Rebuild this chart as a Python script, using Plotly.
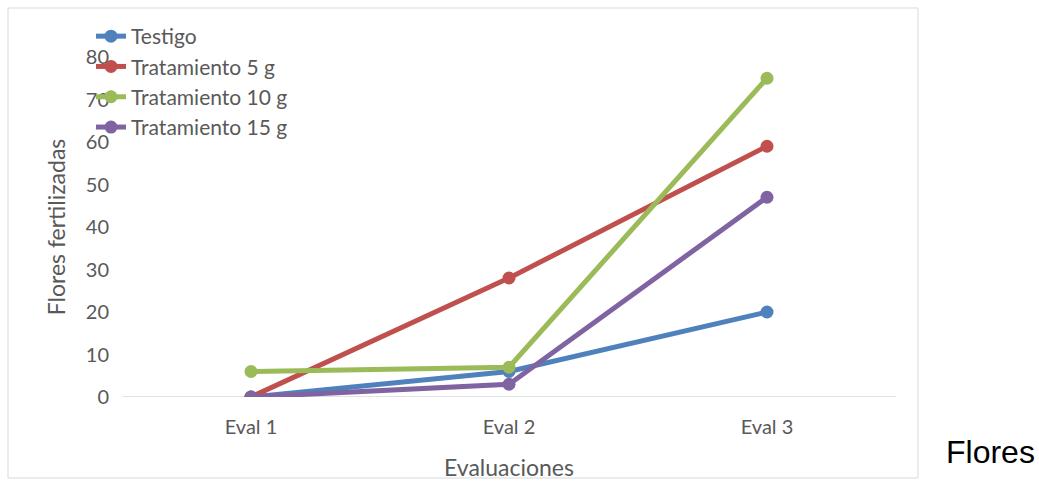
import plotly.graph_objects as go

evaluaciones = ["Eval 1", "Eval 2", "Eval 3"]
testigo = [0, 6, 20]
tratamiento_5g = [0, 28, 59]
tratamiento_10g = [6, 7, 75]
tratamiento_15g = [0, 3, 47]

series = [
    ("Testigo", testigo, "#4F81BD"),
    ("Tratamiento 5 g", tratamiento_5g, "#C0504D"),
    ("Tratamiento 10 g", tratamiento_10g, "#9BBB59"),
    ("Tratamiento 15 g", tratamiento_15g, "#8064A2"),
]

fig = go.Figure()
for name, vals, color in series:
    fig.add_trace(go.Scatter(
        x=evaluaciones, y=vals, name=name, mode="lines+markers",
        legendgroup=name,
        line=dict(color=color, width=5),
        marker=dict(color=color, size=13),
    ))

font_family = "Lato, 'Open Sans', sans-serif"
gray = "#595959"

L, R, T, B = 122, 143, 57, 84
W, H = 1039, 481
pw, ph = W - L - R, H - T - B

def px_x(p):
    return (p - L) / pw

def px_y(p):
    return (H - B - p) / ph

fig.update_layout(
    width=W, height=H,
    margin=dict(l=L, r=R, t=T, b=B, autoexpand=False),
    paper_bgcolor="white", plot_bgcolor="white",
    font=dict(family=font_family, color=gray, size=20),
    showlegend=True,
    legend=dict(
        x=px_x(91), y=px_y(16), xanchor="left", yanchor="top",
        bgcolor="rgba(0,0,0,0)", font=dict(size=21, color=gray),
        itemwidth=30, traceorder="grouped", tracegroupgap=0,
    ),
    xaxis=dict(
        type="category", range=[-0.5, 2.5], automargin=False,
        showgrid=False, showline=False, zeroline=False, ticks="",
        tickfont=dict(size=20, color=gray), ticklabelstandoff=16,
        title=dict(text="Evaluaciones", font=dict(size=23, color=gray), standoff=24),
    ),
    yaxis=dict(
        range=[0, 80], dtick=10, automargin=False,
        showgrid=False, showline=False, zeroline=False, ticks="",
        tickfont=dict(size=20, color=gray), ticklabelstandoff=12,
        title=dict(text="Flores fertilizadas", font=dict(size=23, color=gray), standoff=13),
    ),
    shapes=[
        dict(type="line", xref="paper", yref="y", x0=0, x1=1, y0=0, y1=0,
             line=dict(color="#D9D9D9", width=1.5), layer="below"),
        dict(type="rect", xref="paper", yref="paper",
             x0=px_x(8), x1=px_x(918), y0=px_y(8), y1=px_y(478),
             line=dict(color="#D9D9D9", width=1), layer="below"),
    ],
    annotations=[
        dict(text="Flores", xref="paper", yref="paper",
             x=px_x(944), y=px_y(452), xanchor="left", yanchor="middle",
             showarrow=False, font=dict(family="Liberation Sans, Arial, sans-serif", size=32, color="black")),
    ],
)

fig.write_html("out.html")
